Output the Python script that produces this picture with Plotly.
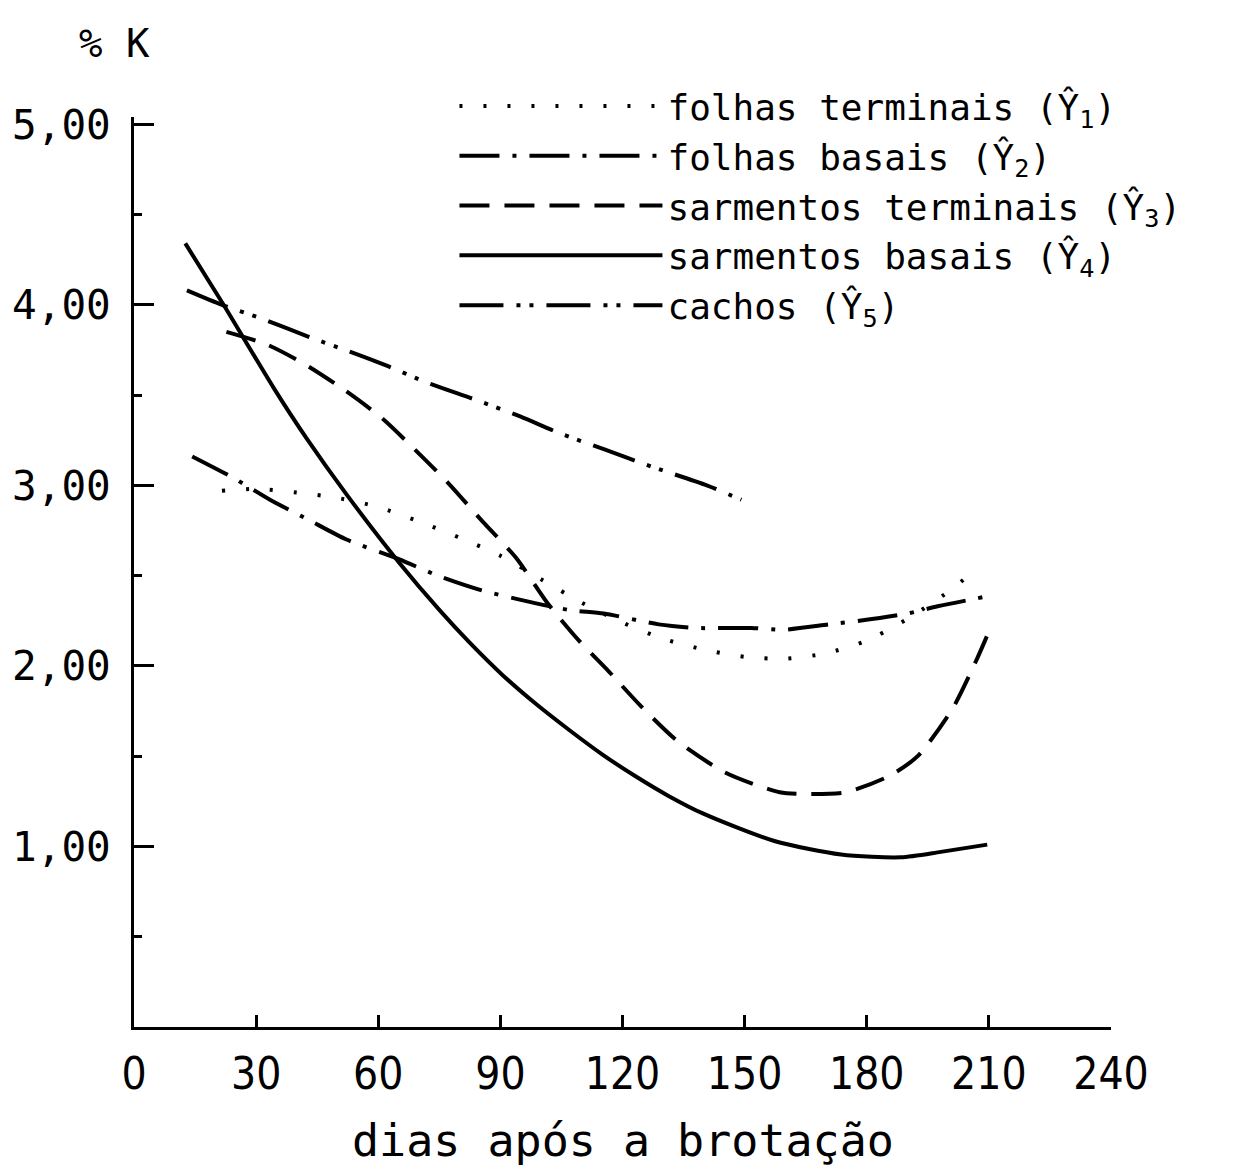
import plotly.graph_objects as go

# ---- data ----
days_y1 = [21.6, 30, 40, 50, 60, 70, 80, 90, 100, 110, 120, 130, 140, 150, 160, 170, 180, 190, 200, 205]
k_y1 = [2.97, 2.98, 2.96, 2.93, 2.88, 2.80, 2.71, 2.61, 2.48, 2.35, 2.24, 2.15, 2.09, 2.05, 2.04, 2.07, 2.14, 2.26, 2.41, 2.50]

days_y2 = [14.3, 24.5, 33.4, 42.8, 52.2, 65.2, 74.6, 85.2, 94.2, 106.8, 115.4, 128.9, 138.2, 151.7, 159.4, 170.8, 178.2, 190.0, 197.4, 208.4]
k_y2 = [3.16, 3.04, 2.92, 2.81, 2.70, 2.59, 2.50, 2.42, 2.37, 2.31, 2.29, 2.23, 2.21, 2.21, 2.20, 2.23, 2.25, 2.29, 2.33, 2.38]

days_y3 = [22.7, 32.6, 42.0, 52.2, 61.0, 68.9, 77.3, 85.6, 93.8, 101.5, 109.3, 116.6, 124.4, 133.7, 145.2, 158.6, 166.0, 174.9, 185.5, 192.5, 201.0, 206.7, 210.0]
k_y3 = [3.85, 3.78, 3.67, 3.52, 3.37, 3.20, 3.01, 2.80, 2.60, 2.35, 2.14, 1.97, 1.78, 1.58, 1.41, 1.30, 1.29, 1.30, 1.39, 1.50, 1.76, 2.02, 2.19]

days_y4 = [12.6, 22.0, 34.3, 42.4, 52.2, 65.2, 75.0, 82.4, 90.5, 98.7, 106.9, 115.0, 123.1, 131.3, 140.0, 157.3, 173.7, 188.4, 198.2, 209.6]
k_y4 = [4.34, 4.00, 3.54, 3.26, 2.95, 2.57, 2.31, 2.13, 1.95, 1.79, 1.645, 1.51, 1.39, 1.28, 1.18, 1.03, 0.955, 0.94, 0.97, 1.01]

days_y5 = [13.0, 21.6, 31.8, 43.2, 53.0, 62.4, 71.8, 84.4, 95.0, 104.4, 115.4, 127.6, 140.7, 149.2]
k_y5 = [4.08, 4.00, 3.92, 3.82, 3.74, 3.66, 3.57, 3.47, 3.38, 3.29, 3.20, 3.10, 3.00, 2.92]

names = [
    "folhas terminais (Ŷ<sub>1</sub>)",
    "folhas basais (Ŷ<sub>2</sub>)",
    "sarmentos terminais (Ŷ<sub>3</sub>)",
    "sarmentos basais (Ŷ<sub>4</sub>)",
    "cachos (Ŷ<sub>5</sub>)",
]
x_tick_vals = [0, 30, 60, 90, 120, 150, 180, 210, 240]
x_tick_text = ["0", "30", "60", "90", "120", "150", "180", "210", "240"]
y_tick_vals = [1, 2, 3, 4, 5]
y_tick_text = ["1,00", "2,00", "3,00", "4,00", "5,00"]

# ---- styles ----
dashes = ["3px,21px", "40px,13px,4px,13px", "30px,15px", "solid", "44px,13px,4px,9px,4px,13px"]
mono = "DejaVu Sans Mono"

fig = go.Figure()
series = [(days_y1, k_y1), (days_y2, k_y2), (days_y3, k_y3), (days_y4, k_y4), (days_y5, k_y5)]
for (xs, ys), nm, ds in zip(series, names, dashes):
    fig.add_trace(go.Scatter(
        x=xs, y=ys, mode="lines", name=nm,
        line=dict(color="black", width=4, dash=ds, shape="spline", smoothing=0.7),
    ))

fig.update_layout(
    width=1243, height=1168,
    margin=dict(l=130, r=132, t=117, b=141),
    paper_bgcolor="white", plot_bgcolor="white",
    showlegend=True,
    legend=dict(
        x=0.328, y=1.045, xanchor="left", yanchor="top",
        font=dict(family=mono, size=36, color="black"),
        itemwidth=203, bgcolor="rgba(0,0,0,0)", borderwidth=0,
        tracegroupgap=0,
    ),
    xaxis=dict(
        range=[0, 240], showgrid=False, zeroline=False,
        showline=True, linecolor="black", linewidth=3,
        ticks="inside", ticklen=12, tickwidth=3, tickcolor="black",
        tickvals=x_tick_vals, ticktext=x_tick_text,
        tickfont=dict(family="Liberation Sans Narrow, DejaVu Sans Condensed, " + mono, size=44, color="black"),
        ticklabelstandoff=6,
    ),
    yaxis=dict(
        range=[0, 5.04], showgrid=False, zeroline=False,
        showline=True, linecolor="black", linewidth=3,
        ticks="inside", ticklen=20, tickwidth=3, tickcolor="black",
        tickvals=y_tick_vals, ticktext=y_tick_text,
        tickfont=dict(family=mono, size=41, color="black"),
        ticklabelstandoff=12,
        minor=dict(tickvals=[0.5, 1.5, 2.5, 3.5, 4.5], ticks="inside", ticklen=8, tickwidth=3, tickcolor="black"),
    ),
    annotations=[
        dict(text="% K", xref="paper", yref="paper", x=-0.02, y=1.081,
             xanchor="center", yanchor="middle", showarrow=False,
             font=dict(family=mono, size=39, color="black")),
        dict(text="dias após a brotação", xref="paper", yref="paper", x=0.5, y=-0.1245,
             xanchor="center", yanchor="middle", showarrow=False,
             font=dict(family=mono, size=45, color="black")),
    ],
)

fig.write_html("out.html", config={"displayModeBar": False},
               post_script="document.body.style.margin='0';")
